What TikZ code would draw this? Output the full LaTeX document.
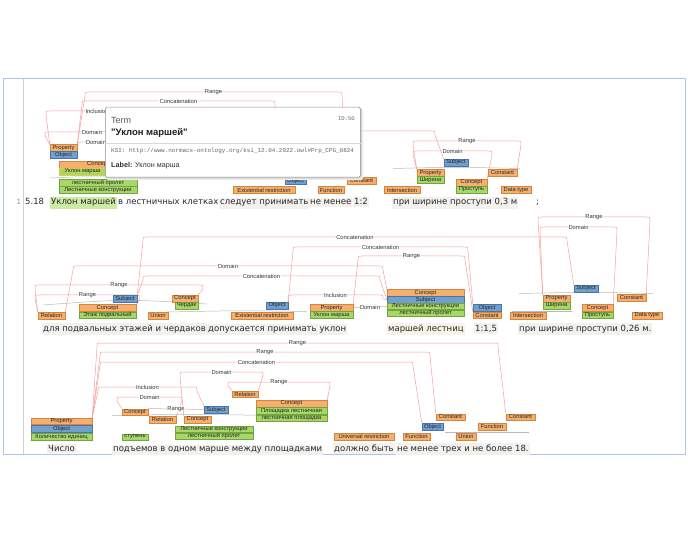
\documentclass[tikz,border=0pt]{standalone}
\usepackage{fontspec}
\setmainfont{DejaVu Sans}
\newfontfamily\tagfam{Liberation Sans}
\newfontfamily\monofam{Liberation Mono}
\usetikzlibrary{calc,backgrounds}
\definecolor{cptfill}{RGB}{245,176,110}
\definecolor{cptline}{RGB}{214,132,62}
\definecolor{sbjfill}{RGB}{112,160,208}
\definecolor{sbjline}{RGB}{72,116,166}
\definecolor{trmfill}{RGB}{168,214,104}
\definecolor{trmline}{RGB}{112,166,62}
\definecolor{relline}{RGB}{244,158,158}
\definecolor{framecol}{RGB}{176,198,232}
\definecolor{spanbg}{RGB}{242,241,237}
\definecolor{spanbeige}{RGB}{248,243,230}
\definecolor{spangreen}{RGB}{204,234,164}
\newcommand{\tagfont}{\tagfam\fontsize{5.8}{6}\selectfont}
\newcommand{\txtfont}{\fontsize{8.5}{10}\selectfont}
\tikzset{
  tag/.style={draw, line width=0.4pt, inner sep=0.3pt, minimum height=6.6pt, font=\tagfont, text=black!85},
  cpt/.style={tag, fill=cptfill, draw=cptline},
  sbj/.style={tag, fill=sbjfill, draw=sbjline},
  trm/.style={tag, fill=trmfill, draw=trmline},
  rel/.style={draw=relline, line width=0.5pt},
  lbl/.style={fill=white, inner sep=0.4pt, font=\tagfont, text=black!80},
  brk/.style={draw=black!28, line width=0.5pt},
  word/.style={anchor=base west, inner xsep=1pt, inner ysep=1.8pt, font=\txtfont, text=black!85},
  wordbg/.style={word, fill=spanbg},
  tipbox/.style={draw=black!45, fill=white, rounded corners=1.5pt, line width=0.5pt, anchor=north west},
  tiptext/.style={anchor=west, inner sep=0pt}
}
\newcommand{\relarc}[6]{%
  \draw[rel] (#1) -- (#4,#3+4) .. controls (#4,#3) .. (#4+4,#3)
    -- node[lbl]{#6} (#5-4,#3) .. controls (#5,#3) .. (#5,#3+4) -- (#2);}

\begin{document}
\begin{tikzpicture}[x=1pt,y=-1pt]
\useasboundingbox (0,0) rectangle (688,537);

\node[cpt, minimum width=27pt] (l1prop) at (63.5,148) {Property};
\node[sbj, minimum width=27pt] (l1obj) at (63.5,154.8) {Object};
\node[cpt, minimum width=78pt] (l1cpt) at (98,164.5) {Concept};
\node[trm, minimum width=47pt, draw={rgb,255:red,236;green,200;blue,60}] (l1marsh) at (82.5,171.6) {Уклон марша};
\node[trm, minimum width=78pt] (l1prolet) at (98,182.8) {лестничный пролет};
\node[trm, minimum width=78pt] (l1konstr) at (98,189.8) {Лестничные конструкции};
\node[cpt, minimum width=62pt] (l1exist) at (264,190) {Existential restriction};
\node[sbj, minimum width=21pt] (l1obj2) at (295.5,181) {Object};
\node[cpt, minimum width=26pt] (l1func) at (331,190) {Function};
\node[cpt, minimum width=29pt] (l1const) at (361.5,181) {Constant};
\node[cpt, minimum width=36pt] (l1inter) at (402,190) {Intersection};
\node[cpt, minimum width=27pt] (l1prop2) at (430.5,173) {Property};
\node[trm, minimum width=27pt] (l1shir) at (430.5,179.8) {Ширина};
\node[sbj, minimum width=24pt] (l1subj) at (456,162.5) {Subject};
\node[cpt, minimum width=29pt] (l1const2) at (502.5,172.5) {Constant};
\node[cpt, minimum width=31pt] (l1cpt2) at (471.5,182.5) {Concept};
\node[trm, minimum width=31pt] (l1prost) at (471.5,189.5) {Проступь};
\node[cpt, minimum width=30pt] (l1dtype) at (516,190) {Data type};

\node[cpt, minimum width=27pt] (l2rel) at (51.5,315.5) {Relation};
\node[cpt, minimum width=57pt] (l2cpt) at (107.5,308) {Concept};
\node[trm, minimum width=57pt] (l2etazh) at (107.5,315.2) {Этаж подвальный};
\node[sbj, minimum width=24pt] (l2subj) at (125,299) {Subject};
\node[cpt, minimum width=26pt] (l2cpt2) at (185,298.5) {Concept};
\node[trm, minimum width=23pt] (l2cherd) at (186.5,305.5) {Чердак};
\node[cpt, minimum width=20pt] (l2union) at (158,315.5) {Union};
\node[cpt, minimum width=62pt] (l2exist) at (262,315.5) {Existential restriction};
\node[sbj, minimum width=22pt] (l2obj) at (277,305.5) {Object};
\node[cpt, minimum width=43pt] (l2prop) at (331.5,307.8) {Property};
\node[trm, minimum width=43pt] (l2uklon) at (331.5,315) {Уклон марша};
\node[cpt, minimum width=77pt] (l2cpt3) at (425.5,292.8) {Concept};
\node[sbj, minimum width=77pt] (l2subj2) at (425.5,299.6) {Subject};
\node[trm, minimum width=77pt] (l2konstr) at (425.5,306.4) {Лестничные конструкции};
\node[trm, minimum width=77pt] (l2prolet) at (425.5,313.2) {лестничный пролет};
\node[sbj, minimum width=28pt] (l2obj2) at (487,307.8) {Object};
\node[cpt, minimum width=28pt] (l2const) at (487,315.3) {Constant};
\node[cpt, minimum width=36pt] (l2inter) at (528,315.5) {Intersection};
\node[cpt, minimum width=27pt] (l2prop2) at (556.5,298.5) {Property};
\node[trm, minimum width=27pt] (l2shir) at (556.5,305.5) {Ширина};
\node[sbj, minimum width=24pt] (l2subj3) at (586,288.5) {Subject};
\node[cpt, minimum width=29pt] (l2const2) at (631.5,298) {Constant};
\node[cpt, minimum width=31pt] (l2cpt4) at (597.5,307.8) {Concept};
\node[trm, minimum width=31pt] (l2prost) at (597.5,315.2) {Проступь};
\node[cpt, minimum width=30pt] (l2dtype) at (647,315.5) {Data type};

\node[cpt, minimum width=61pt] (l3prop) at (61.5,421.3) {Property};
\node[sbj, minimum width=61pt] (l3obj) at (61.5,428.5) {Object};
\node[trm, minimum width=61pt] (l3kol) at (61.5,436.7) {Количество единиц};
\node[cpt, minimum width=26pt] (l3cpt) at (135,412) {Concept};
\node[trm, minimum width=26pt] (l3stup) at (135,437) {ступень};
\node[cpt, minimum width=27pt] (l3rel) at (162.5,419.5) {Relation};
\node[cpt, minimum width=27pt] (l3cpt2) at (197.5,419.5) {Concept};
\node[sbj, minimum width=24pt] (l3subj) at (216,409.5) {Subject};
\node[trm, minimum width=78pt] (l3konstr) at (214,429) {Лестничные конструкции};
\node[trm, minimum width=78pt] (l3prolet) at (214,436) {лестничный пролет};
\node[cpt, minimum width=26pt] (l3rel2) at (245,394) {Relation};
\node[cpt, minimum width=71pt] (l3cpt3) at (291.5,403.5) {Concept};
\node[trm, minimum width=71pt] (l3plosh) at (291.5,410.8) {Площадка лестничная};
\node[trm, minimum width=71pt] (l3plosh2) at (291.5,418.1) {лестничная площадка};
\node[cpt, minimum width=60pt] (l3univ) at (364,436.5) {Universal restriction};
\node[cpt, minimum width=27pt] (l3func) at (416.5,436.5) {Function};
\node[sbj, minimum width=21pt] (l3obj2) at (432.5,426.5) {Object};
\node[cpt, minimum width=29pt] (l3const) at (450.5,417) {Constant};
\node[cpt, minimum width=20pt] (l3union) at (466,436.5) {Union};
\node[cpt, minimum width=28pt] (l3func2) at (492,426.5) {Function};
\node[cpt, minimum width=29pt] (l3const2) at (520.5,417) {Constant};

\node[word, text=black!45, font=\fontsize{7}{8}\selectfont] (num1) at (15.5,205) {1};
\node[word] (t1a) at (24,205) {5.18};
\node[word, fill=spangreen] (t1b) at (50,205) {Уклон маршей};
\node[word] (t1c) at (117,205) {в лестничных клетках};
\node[wordbg] (t1d) at (219,205) {следует принимать};
\node[wordbg] (t1e) at (309,205) {не менее};
\node[wordbg] (t1f) at (353,205) {1:2};
\node[wordbg] (t1g) at (392,205) {при ширине проступи 0,3 м};
\node[word] (t1h) at (535,205) {;};

\node[wordbg] (t2a) at (42,331) {для подвальных этажей и чердаков};
\node[wordbg] (t2b) at (207,331) {допускается принимать};
\node[wordbg] (t2c) at (318.5,331) {уклон};
\node[word, fill=spanbeige] (t2d) at (387,331) {маршей лестниц};
\node[wordbg] (t2e) at (474,331) {1:1,5};
\node[wordbg] (t2f) at (518,331) {при ширине проступи 0,26 м.};

\node[wordbg] (t3a) at (47,451.5) {Число};
\node[wordbg] (t3b) at (112,451.5) {подъемов в одном марше между площадками};
\node[wordbg] (t3c) at (333,451.5) {должно быть};
\node[wordbg] (t3d) at (396,451.5) {не менее трех и не более 18.};

\begin{scope}[on background layer]
\draw[framecol, line width=1pt] (3,79) rectangle (685,454);
\draw[black!18, line width=0.5pt] (23,79) -- (23,454);

\draw[brk] (50,178) .. controls (85,176.5) .. (125,177.5);
\draw[brk] (393,168.5) .. controls (455,167) .. (520,168.5);
\draw[brk] (43,305) .. controls (125,299) .. (207,304);
\draw[brk] (167,312) .. controls (240,310.5) .. (307,311.5);
\draw[brk] (519,293.5) .. controls (586,292) .. (653,293.5);
\draw[brk] (512,311.5) -- (572,311.5);
\draw[brk] (112,415.5) .. controls (190,414) .. (270,415.5);
\draw[brk] (445,432.5) -- (529,432.5);

\relarc{l1prop.north east}{l1const.north west}{92}{85}{342}{Range}
\relarc{l1prop.north east}{l1obj2.north west}{101}{82}{275}{Concatenation}
\relarc{l1prop.north west}{l1cpt.north east}{111}{46}{148}{Inclusion}
\relarc{l1prop.north west}{l1cpt.north east}{132}{45}{139}{Domain}
\relarc{l1prop.north east}{l1cpt.north east}{142}{78}{114}{Domain}
\draw[rel] (l1obj2.north) -- (260,135) .. controls (260,131) .. (264,131) -- (431,131) .. controls (435,131) .. (435,135) -- (l1subj.north west);
\relarc{l1prop2.north west}{l1const2.north east}{141}{413}{521}{Range}
\relarc{l1prop2.north west}{l1cpt2.north east}{151}{413}{492}{Domain}

\relarc{l2subj.north east}{l2subj3.north west}{237}{143}{567}{Concatenation}
\relarc{l2obj.north east}{l2obj2.north west}{247}{293}{468}{Concatenation}
\relarc{l2prop.north east}{l2const.north west}{256}{358}{465}{Range}
\relarc{l2rel.north east}{l2cpt3.north west}{266}{73}{383}{Domain}
\relarc{l2subj.north east}{l2subj2.west}{276}{143}{380}{Concatenation}
\relarc{l2rel.north west}{l2cpt2.north east}{285}{35}{203}{Range}
\relarc{l2rel.north west}{l2cpt.north east}{295}{35}{140}{Range}
\relarc{l2obj.north east}{l2subj2.west}{295}{288}{383}{Inclusion}
\draw[rel] (l2prop.east) -- node[lbl]{Domain} (l2konstr.west);
\relarc{l2prop2.north west}{l2const2.north east}{217}{538}{650}{Range}
\relarc{l2prop2.north west}{l2cpt4.north east}{227}{540}{617}{Domain}

\relarc{l3prop.north east}{l3const2.north west}{343}{97}{498}{Range}
\relarc{l3prop.north east}{l3const.north west}{352}{100}{430}{Range}
\relarc{l3prop.north east}{l3obj2.north west}{362}{100}{413}{Concatenation}
\relarc{l3prop.north east}{l3subj.north west}{387}{98}{197}{Inclusion}
\relarc{l3cpt.north west}{l3rel.north east}{397}{117}{182}{Domain}
\draw[rel] (l3cpt.north east) -- node[lbl]{Range} (l3subj.west);
\relarc{l3cpt2.north west}{l3rel2.north east}{372}{180}{263}{Domain}
\relarc{l3rel2.north west}{l3cpt3.north east}{382}{228}{330}{Range}
\end{scope}

\fill[black!8, rounded corners=2pt] (106.5,108.5) rectangle (363,180);
\fill[black!16, rounded corners=2pt] (106,108) rectangle (361.8,178.6);
\node[tipbox, minimum width=255pt, minimum height=70pt] (tip) at (105,107) {};
\node[tiptext, font=\tagfam\fontsize{9}{10}\selectfont, text=black!65] (tipterm) at (111,120) {Term};
\node[tiptext, anchor=east, font=\monofam\fontsize{5.6}{6}\selectfont, text=black!60] (tipid) at (355,119) {ID:50};
\node[tiptext, font=\tagfam\bfseries\fontsize{9.5}{10}\selectfont, text=black!88] (tipname) at (111,132.5) {"Уклон маршей"};
\draw[black!15, line width=0.5pt] (tip.west |- 0,143) -- (tip.east |- 0,143);
\node[tiptext, font=\monofam\fontsize{5.95}{6}\selectfont, text=black!60] (tipksi) at (111,151) {KSI: http://www.normacs-ontology.org/ksi\_12.04.2022.owl\#Prp\_CPG\_0824};
\node[tiptext, font=\tagfam\fontsize{7.2}{8}\selectfont, text=black!80] (tiplabel) at (111,166) {\textbf{Label:} Уклон марша};
\end{tikzpicture}
\end{document}
